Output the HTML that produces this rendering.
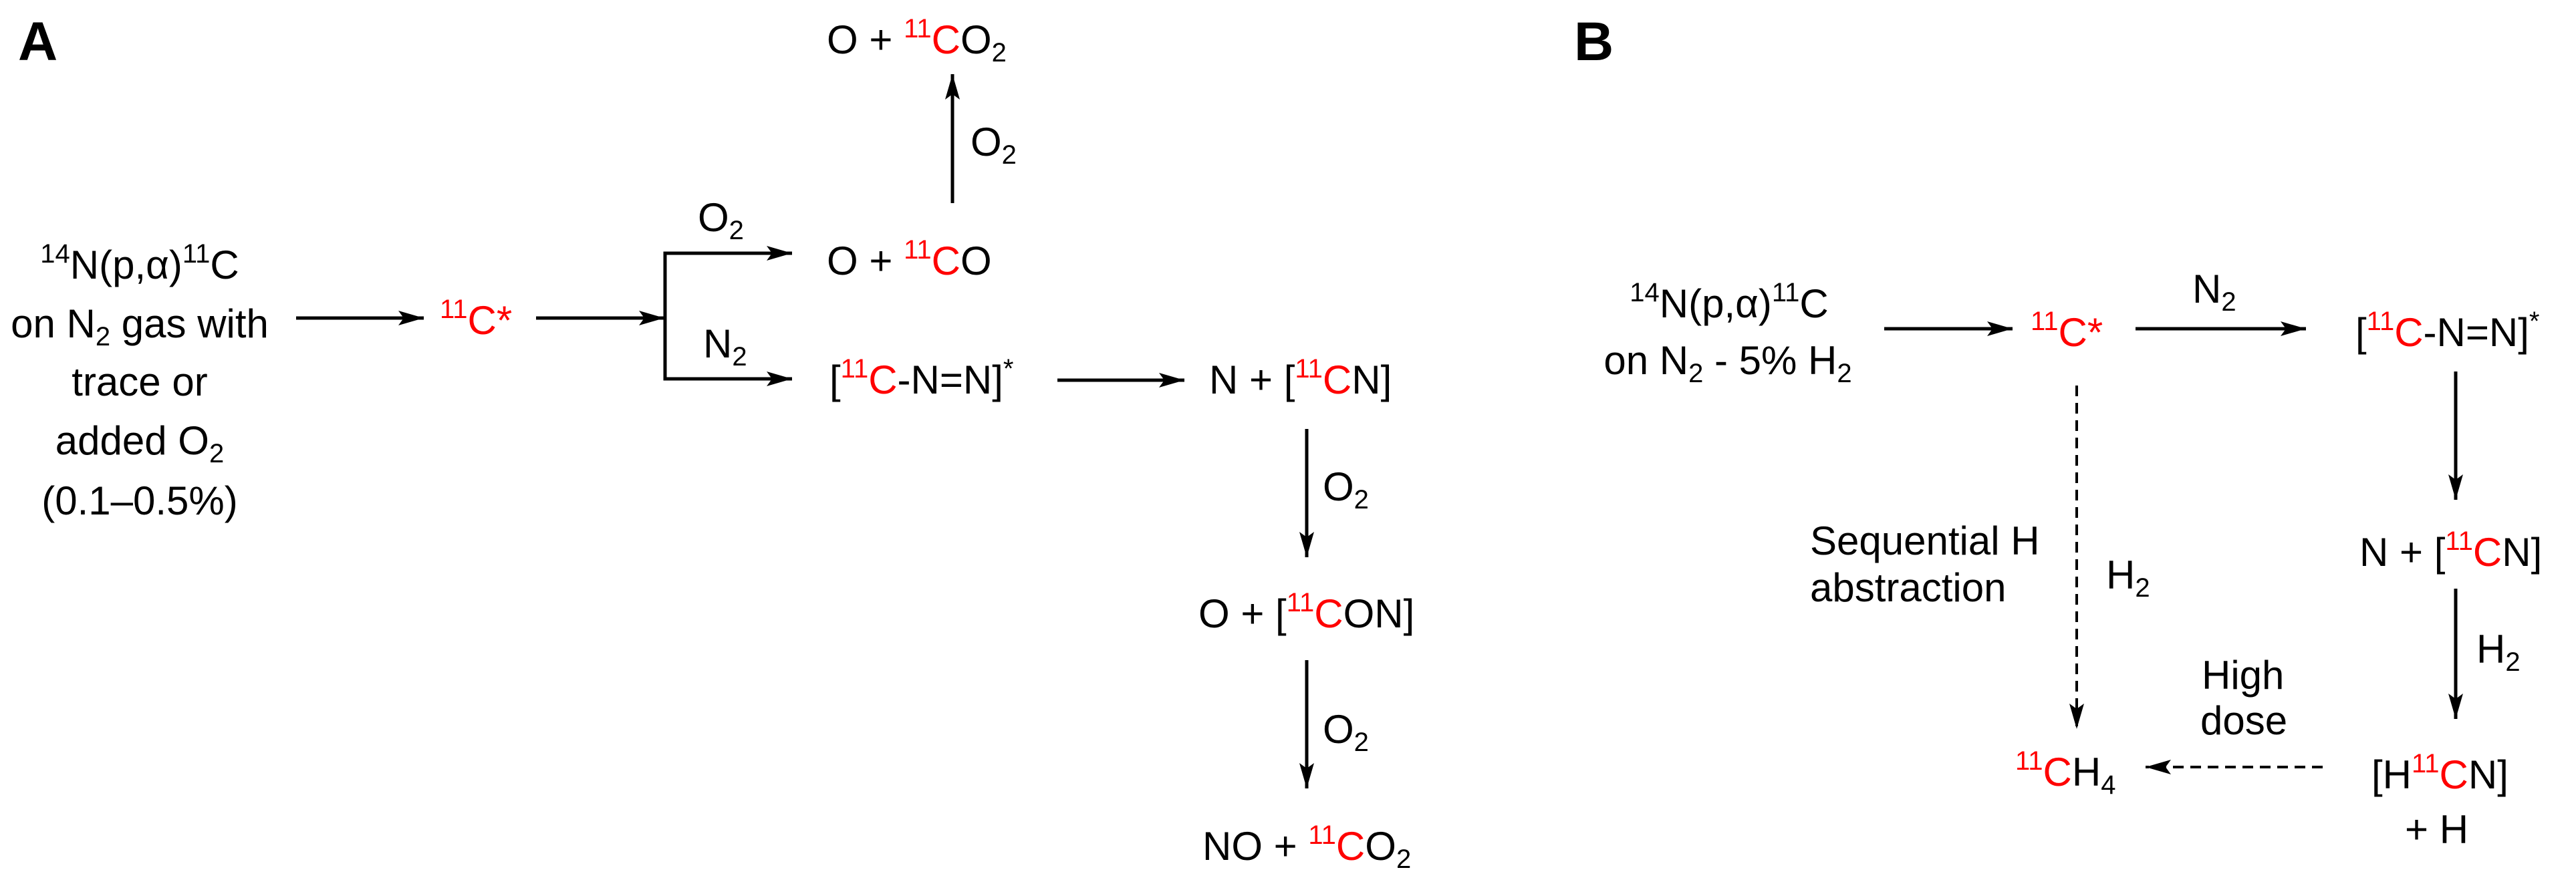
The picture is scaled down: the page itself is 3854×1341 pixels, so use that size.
<!DOCTYPE html>
<html><head><meta charset="utf-8"><style>
html,body{margin:0;padding:0;background:#fff;}
svg{display:block;}
text{font-family:"Liberation Sans",Arial,sans-serif;font-size:60px;fill:#000;}
.r{fill:#f00;}
.s{font-size:40px;}
</style></head><body>
<svg width="3854" height="1341" viewBox="0 0 3854 1341" xmlns="http://www.w3.org/2000/svg">
<defs>
<marker id="ah" markerUnits="userSpaceOnUse" markerWidth="40" markerHeight="24" refX="38" refY="11" orient="auto">
<path d="M0,0 L38,11 L0,22 L8,11 z" fill="#000"/>
</marker>
</defs>
<g stroke="#000" stroke-width="5" fill="none">
<!-- Panel A -->
<line x1="443" y1="476" x2="634" y2="476" marker-end="url(#ah)"/>
<line x1="802" y1="476" x2="994" y2="476" marker-end="url(#ah)"/>
<polyline points="1185,379 995,379 995,567 1185,567" marker-end="url(#ah)"/>
<line x1="995" y1="379" x2="1185" y2="379" marker-end="url(#ah)"/>
<line x1="1425" y1="304" x2="1425" y2="111" marker-end="url(#ah)"/>
<line x1="1582" y1="569" x2="1772" y2="569" marker-end="url(#ah)"/>
<line x1="1955" y1="642" x2="1955" y2="834" marker-end="url(#ah)"/>
<line x1="1955" y1="988" x2="1955" y2="1180" marker-end="url(#ah)"/>
<!-- Panel B -->
<line x1="2819" y1="492" x2="3011" y2="492" marker-end="url(#ah)"/>
<line x1="3195" y1="492" x2="3450" y2="492" marker-end="url(#ah)"/>
<line x1="3674" y1="556" x2="3674" y2="748" marker-end="url(#ah)"/>
<line x1="3674" y1="881" x2="3674" y2="1076" marker-end="url(#ah)"/>
<line x1="3107" y1="577" x2="3107" y2="1091" stroke-width="4" stroke-dasharray="16,10" marker-end="url(#ah)"/>
<line x1="3475" y1="1148" x2="3210" y2="1148" stroke-width="4" stroke-dasharray="16,10" marker-end="url(#ah)"/>
</g>
<!-- Panel labels -->
<text x="27" y="90" style="font-size:82px;font-weight:bold">A</text>
<text x="2355" y="90" style="font-size:82px;font-weight:bold">B</text>

<!-- Panel A texts -->
<text x="1237" y="80">O + <tspan class="s r" dy="-24">11</tspan><tspan class="r" dy="24">C</tspan>O<tspan class="s" dy="12">2</tspan></text>
<text x="1452" y="233">O<tspan class="s" dy="12">2</tspan></text>
<text x="1044" y="346">O<tspan class="s" dy="12">2</tspan></text>
<text x="1237" y="411">O + <tspan class="s r" dy="-24">11</tspan><tspan class="r" dy="24">C</tspan>O</text>
<text x="658" y="500"><tspan class="s r" dy="-24">11</tspan><tspan class="r" dy="24">C*</tspan></text>
<text x="1052" y="535">N<tspan class="s" dy="12">2</tspan></text>
<text x="1241" y="589">[<tspan class="s r" dy="-24">11</tspan><tspan class="r" dy="24">C</tspan>-N=N]<tspan class="s" dy="-24">*</tspan></text>
<text x="1809" y="589">N + [<tspan class="s r" dy="-24">11</tspan><tspan class="r" dy="24">C</tspan>N]</text>
<text x="1979" y="749">O<tspan class="s" dy="12">2</tspan></text>
<text x="1793" y="939">O + [<tspan class="s r" dy="-24">11</tspan><tspan class="r" dy="24">C</tspan>ON]</text>
<text x="1979" y="1112">O<tspan class="s" dy="12">2</tspan></text>
<text x="1799" y="1287">NO + <tspan class="s r" dy="-24">11</tspan><tspan class="r" dy="24">C</tspan>O<tspan class="s" dy="12">2</tspan></text>

<text x="209" y="417" text-anchor="middle"><tspan class="s" dy="-24">14</tspan><tspan dy="24">N(p,α)</tspan><tspan class="s" dy="-24">11</tspan><tspan dy="24">C</tspan></text>
<text x="209" y="505" text-anchor="middle">on N<tspan class="s" dy="12">2</tspan><tspan dy="-12"> gas with</tspan></text>
<text x="209" y="592" text-anchor="middle">trace or</text>
<text x="209" y="680" text-anchor="middle">added O<tspan class="s" dy="12">2</tspan></text>
<text x="209" y="770" text-anchor="middle">(0.1–0.5%)</text>

<!-- Panel B texts -->
<text x="2587" y="475" text-anchor="middle"><tspan class="s" dy="-24">14</tspan><tspan dy="24">N(p,α)</tspan><tspan class="s" dy="-24">11</tspan><tspan dy="24">C</tspan></text>
<text x="2585" y="560" text-anchor="middle">on N<tspan class="s" dy="12">2</tspan><tspan dy="-12"> - 5% H</tspan><tspan class="s" dy="12">2</tspan></text>
<text x="3038" y="518"><tspan class="s r" dy="-24">11</tspan><tspan class="r" dy="24">C*</tspan></text>
<text x="3280" y="453">N<tspan class="s" dy="12">2</tspan></text>
<text x="3524" y="518">[<tspan class="s r" dy="-24">11</tspan><tspan class="r" dy="24">C</tspan>-N=N]<tspan class="s" dy="-24">*</tspan></text>
<text x="3530" y="847">N + [<tspan class="s r" dy="-24">11</tspan><tspan class="r" dy="24">C</tspan>N]</text>
<text x="3705" y="992">H<tspan class="s" dy="12">2</tspan></text>
<text x="3548" y="1180">[H<tspan class="s r" dy="-24">11</tspan><tspan class="r" dy="24">C</tspan>N]</text>
<text x="3598" y="1262">+ H</text>
<text x="3294" y="1031">High</text>
<text x="3292" y="1099">dose</text>
<text x="3015" y="1176"><tspan class="s r" dy="-24">11</tspan><tspan class="r" dy="24">C</tspan>H<tspan class="s" dy="12">4</tspan></text>
<text x="2708" y="830">Sequential H</text>
<text x="2708" y="900">abstraction</text>
<text x="3151" y="881">H<tspan class="s" dy="12">2</tspan></text>
</svg>
</body></html>
